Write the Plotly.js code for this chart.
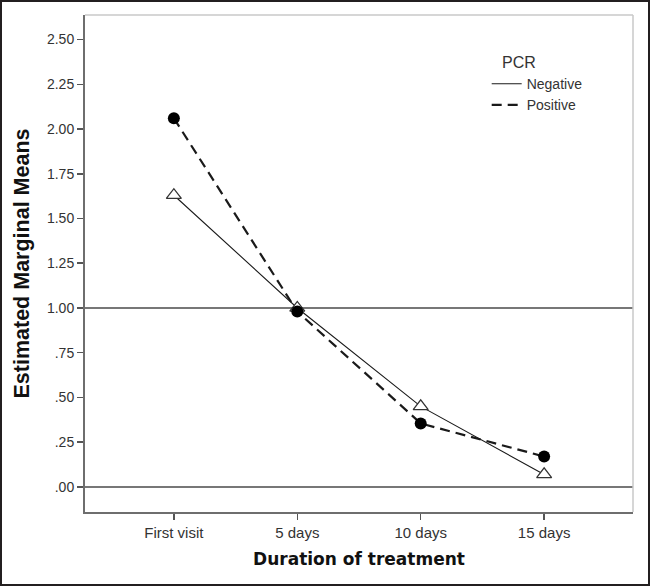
<!DOCTYPE html>
<html>
<head>
<meta charset="utf-8">
<script src="https://cdn.plot.ly/plotly-3.0.1.min.js"></script>
<style>
  html, body { margin: 0; padding: 0; background: #fff; }
  #frame { width: 646px; height: 582px; border: 2px solid #231f20; }
  #chart { width: 646px; height: 582px; }
</style>
</head>
<body>
<div id="frame"><div id="chart"></div></div>
<script>
// ---- data ----
const categories = ["First visit", "5 days", "10 days", "15 days"];
const negativeMeans = [1.63, 1.00, 0.45, 0.07];
const positiveMeans = [2.06, 0.98, 0.355, 0.17];
const seriesNames = ["Negative", "Positive"];
const yTickValues = [0, 0.25, 0.5, 0.75, 1.0, 1.25, 1.5, 1.75, 2.0, 2.25, 2.5];
const yTickLabels = [".00", ".25", ".50", ".75", "1.00", "1.25", "1.50", "1.75", "2.00", "2.25", "2.50"];
const referenceLevels = [0, 1];

const FONT = "Liberation Sans, Arial, sans-serif";

const traces = [
  { x: categories, y: negativeMeans, name: seriesNames[0], type: "scatter", mode: "lines",
    line: { color: "#1a1a1a", width: 1.1, dash: "solid" }, showlegend: true, hoverinfo: "skip" },
  { x: categories, y: positiveMeans, name: seriesNames[1], type: "scatter", mode: "lines",
    line: { color: "#1a1a1a", width: 2.2, dash: "10px,6px" }, showlegend: true, hoverinfo: "skip" },
  { x: categories, y: negativeMeans, name: seriesNames[0], type: "scatter", mode: "markers",
    marker: { symbol: "triangle-up", size: 13, color: "#ffffff", line: { color: "#333", width: 1.3 } },
    showlegend: false },
  { x: categories, y: positiveMeans, name: seriesNames[1], type: "scatter", mode: "markers",
    marker: { symbol: "circle", size: 12, color: "#000000", line: { width: 0 } },
    showlegend: false }
];

const shapes = referenceLevels.map(v => ({
  type: "line", xref: "paper", yref: "y", x0: 0, x1: 1, y0: v, y1: v,
  line: { color: "#4a4a4a", width: 1.6 }, layer: "below"
}));
// light top/right border of plot area
shapes.push({ type: "line", xref: "paper", yref: "paper", x0: 0, x1: 1, y0: 1, y1: 1,
  line: { color: "#c8c8c8", width: 1.5 } });
shapes.push({ type: "line", xref: "paper", yref: "paper", x0: 1, x1: 1, y0: 0, y1: 1,
  line: { color: "#c8c8c8", width: 1.5 } });

const layout = {
  width: 646, height: 582,
  margin: { l: 83, r: 15, t: 13, b: 72 },
  paper_bgcolor: "#ffffff", plot_bgcolor: "#ffffff",
  font: { family: FONT, color: "#333" },
  xaxis: {
    type: "category", range: [-0.72, 3.72],
    showgrid: false, zeroline: false,
    showline: true, linecolor: "#6e6e6e", linewidth: 2,
    ticks: "outside", ticklen: 6, tickwidth: 1.5, tickcolor: "#555",
    tickfont: { family: FONT, size: 15, color: "#333" },
    title: { text: "Duration of treatment", standoff: 13,
      font: { family: "DejaVu Sans, sans-serif", size: 17, color: "#111", weight: "bold" } }
  },
  yaxis: {
    range: [-0.14, 2.637],
    tickvals: yTickValues, ticktext: yTickLabels,
    showgrid: false, zeroline: false,
    showline: true, linecolor: "#6e6e6e", linewidth: 2,
    ticks: "outside", ticklen: 6, tickwidth: 1.5, tickcolor: "#555",
    tickfont: { family: FONT, size: 14, color: "#333" },
    title: { text: "Estimated Marginal Means", standoff: 11,
      font: { family: FONT, size: 21.5, color: "#111", weight: "bold" } }
  },
  shapes: shapes,
  showlegend: true,
  legend: {
    x: 0.733, y: 0.935, xanchor: "left", yanchor: "top",
    bgcolor: "rgba(0,0,0,0)", borderwidth: 0,
    itemwidth: 30, tracegroupgap: 0,
    font: { family: FONT, size: 14, color: "#333" },
    title: { text: "&nbsp;&nbsp;&nbsp;PCR", side: "top", font: { family: FONT, size: 16, color: "#333" } }
  }
};

Plotly.newPlot("chart", traces, layout, { displayModeBar: false, staticPlot: true });
</script>
</body>
</html>
